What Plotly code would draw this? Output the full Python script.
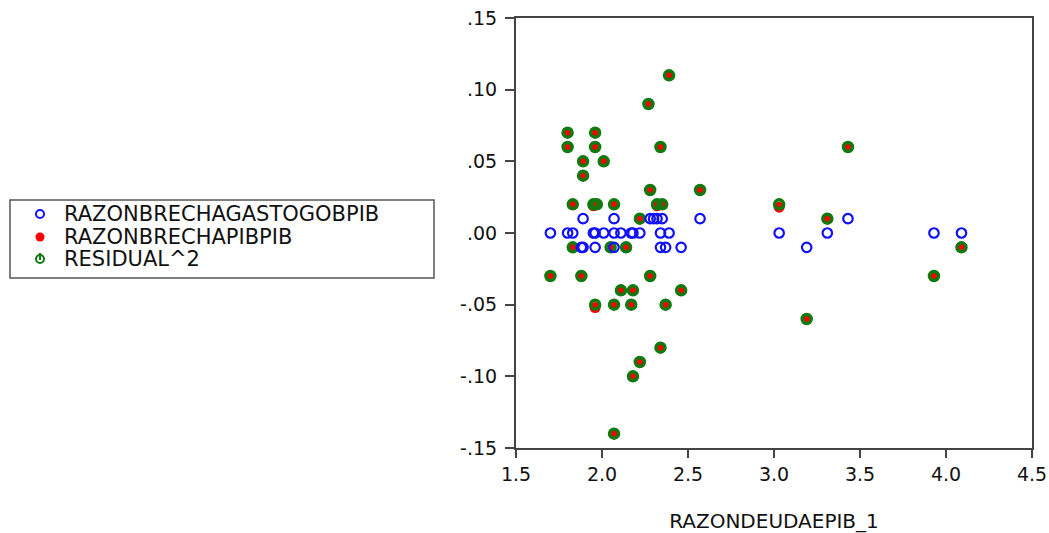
import plotly.graph_objects as go

# Observations (x = RAZONDEUDAEPIB_1)
x_gasto = [1.70, 1.80, 1.83, 1.95, 1.96, 2.01, 2.07, 2.11, 2.17, 2.18, 2.22, 2.34, 2.39, 3.03, 3.31, 3.93, 4.09,
           1.89, 2.07, 2.28, 2.30, 2.32, 2.35, 2.57, 3.43,
           1.88, 1.89, 1.96, 2.07, 2.34, 2.37, 2.46, 3.19]
y_gasto = [0.00] * 17 + [0.01] * 8 + [-0.01] * 8

x_resid = [1.70, 1.80, 1.80, 1.83, 1.83, 1.88, 1.89, 1.89, 1.95, 1.97, 1.96, 1.96, 1.96, 2.01,
           2.05, 2.07, 2.07, 2.07, 2.11, 2.14, 2.17, 2.18, 2.18, 2.22, 2.22, 2.27, 2.28, 2.28,
           2.32, 2.35, 2.34, 2.34, 2.37, 2.39, 2.46, 2.57, 3.03, 3.19, 3.31, 3.43, 3.93, 4.09]
y_resid = [-0.03, 0.07, 0.06, 0.02, -0.01, -0.03, 0.05, 0.04, 0.02, 0.02, 0.07, 0.06, -0.05, 0.05,
           -0.01, 0.02, -0.05, -0.14, -0.04, -0.01, -0.05, -0.04, -0.10, 0.01, -0.09, 0.09, 0.03, -0.03,
           0.02, 0.02, 0.06, -0.08, -0.05, 0.11, -0.04, 0.03, 0.02, -0.06, 0.01, 0.06, -0.03, -0.01]

x_pib = list(x_resid)
y_pib = [-0.03, 0.07, 0.06, 0.02, -0.01, -0.03, 0.05, 0.04, 0.019, 0.02, 0.07, 0.06, -0.052, 0.05,
         -0.01, 0.02, -0.05, -0.14, -0.04, -0.01, -0.05, -0.04, -0.10, 0.01, -0.09, 0.09, 0.03, -0.03,
         0.019, 0.02, 0.06, -0.08, -0.05, 0.11, -0.04, 0.03, 0.018, -0.06, 0.01, 0.06, -0.03, -0.01]

series_names = ["RAZONBRECHAGASTOGOBPIB", "RAZONBRECHAPIBPIB", "RESIDUAL^2"]

y_tickvals = [0.15, 0.10, 0.05, 0.00, -0.05, -0.10, -0.15]
y_ticktext = [".15", ".10", ".05", ".00", "-.05", "-.10", "-.15"]
x_tickvals = [1.5, 2.0, 2.5, 3.0, 3.5, 4.0, 4.5]
x_ticktext = ["1.5", "2.0", "2.5", "3.0", "3.5", "4.0", "4.5"]

FONT = "DejaVu Sans"
AXIS_COLOR = "#444444"
BLUE, RED, GREEN = "#1010ff", "#ff0000", "#0f7a0f"

fig = go.Figure()
fig.add_trace(go.Scatter(
    x=x_pib, y=y_pib, mode="markers", name=series_names[1], showlegend=False,
    marker=dict(symbol="circle", size=11, color=RED, line=dict(width=0)),
))
fig.add_trace(go.Scatter(
    x=x_resid, y=y_resid, mode="markers", name=series_names[2], showlegend=False,
    marker=dict(symbol="circle-open", size=9, color=GREEN, line=dict(width=3.5, color=GREEN)),
))
fig.add_trace(go.Scatter(
    x=x_gasto, y=y_gasto, mode="markers", name=series_names[0], showlegend=False,
    marker=dict(symbol="circle-open", size=9.5, color=BLUE, line=dict(width=2.2, color=BLUE)),
))

L, R, T, B = 516, 1032, 18, 448
W, H = 1049, 533
pw, ph = R - L, B - T

def px_x(p):
    return (p - L) / pw

def px_y(p):
    return (B - p) / ph

# legend frame
fig.add_shape(type="rect", xref="paper", yref="paper",
              x0=px_x(10), x1=px_x(434), y0=px_y(278), y1=px_y(200),
              line=dict(color="#555555", width=1.5), fillcolor="rgba(0,0,0,0)")

legend_rows = [214, 237, 259]
mx, r = 40, 4
# legend symbols
fig.add_shape(type="circle", xref="paper", yref="paper",
              x0=px_x(mx - r), x1=px_x(mx + r), y0=px_y(legend_rows[0] + r), y1=px_y(legend_rows[0] - r),
              line=dict(color=BLUE, width=2), fillcolor="rgba(0,0,0,0)")
fig.add_shape(type="circle", xref="paper", yref="paper",
              x0=px_x(mx - r - 0.5), x1=px_x(mx + r + 0.5), y0=px_y(legend_rows[1] + r + 0.5),
              y1=px_y(legend_rows[1] - r - 0.5),
              line=dict(color=RED, width=0), fillcolor=RED)
fig.add_shape(type="circle", xref="paper", yref="paper",
              x0=px_x(mx - r), x1=px_x(mx + r), y0=px_y(legend_rows[2] + r), y1=px_y(legend_rows[2] - r),
              line=dict(color=GREEN, width=2), fillcolor="rgba(0,0,0,0)")
fig.add_shape(type="line", xref="paper", yref="paper",
              x0=px_x(mx), x1=px_x(mx), y0=px_y(legend_rows[2] + 1), y1=px_y(legend_rows[2] - r - 2),
              line=dict(color=GREEN, width=2))

for name, row in zip(series_names, legend_rows):
    fig.add_annotation(text=name, xref="paper", yref="paper", x=px_x(62), y=px_y(row),
                       xanchor="left", yanchor="middle", showarrow=False,
                       font=dict(family=FONT, size=21, color="#111111"))

fig.update_layout(
    width=W, height=H,
    margin=dict(l=L, r=W - R, t=T, b=H - B, pad=0, autoexpand=False),
    paper_bgcolor="white", plot_bgcolor="white",
    font=dict(family=FONT, size=19, color="#111111"),
    showlegend=False,
    xaxis=dict(range=[1.5, 4.5], tickvals=x_tickvals, ticktext=x_ticktext, automargin=False,
               showgrid=False, zeroline=False, showline=True, linecolor=AXIS_COLOR, linewidth=2,
               mirror=True, ticks="outside", ticklen=8, tickwidth=1.5, tickcolor=AXIS_COLOR,
               tickfont=dict(family=FONT, size=19),
               title=dict(text="RAZONDEUDAEPIB_1", font=dict(family=FONT, size=20), standoff=30)),
    yaxis=dict(range=[-0.15, 0.15], tickvals=y_tickvals, ticktext=y_ticktext, automargin=False,
               showgrid=False, zeroline=False, showline=True, linecolor=AXIS_COLOR, linewidth=2,
               mirror=True, ticks="outside", ticklen=9, tickwidth=1.5, tickcolor=AXIS_COLOR,
               tickfont=dict(family=FONT, size=19), ticklabelstandoff=4),
)

fig.write_html("out.html", config={"displayModeBar": False},
               post_script="document.body.style.margin='0';document.body.style.overflow='hidden';")
